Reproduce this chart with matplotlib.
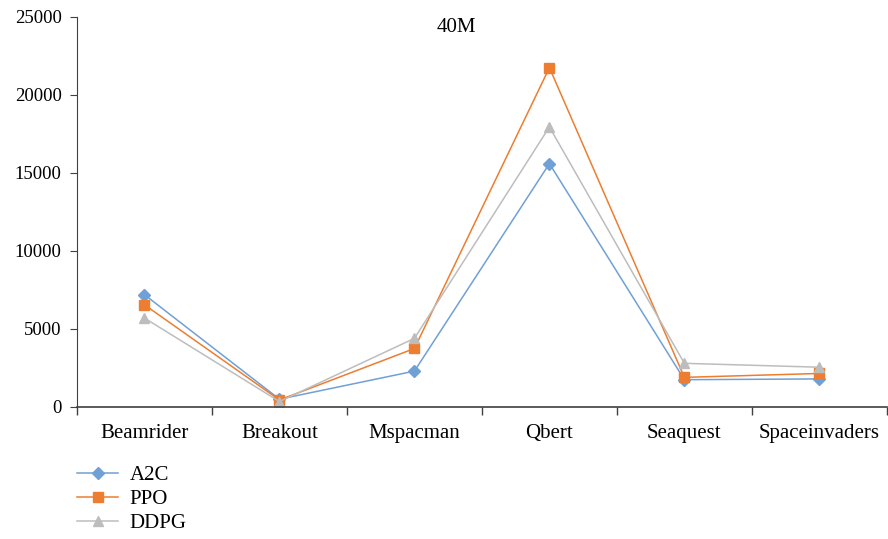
import numpy as np
import matplotlib as mpl
from matplotlib import pyplot as plt
from matplotlib.ticker import FixedLocator

mpl.rcParams['font.family'] = ['Liberation Serif', 'DejaVu Serif']

games = ['Beamrider', 'Breakout', 'Mspacman', 'Qbert', 'Seaquest', 'Spaceinvaders']
a2c   = [7200, 500, 2300, 15600, 1750, 1800]
ppo   = [6550, 450, 3750, 21750, 1900, 2150]
ddpg  = [5700, 350, 4400, 17950, 2800, 2550]

series = [('A2C', a2c, '#6fa0d6', 'D', 6), ('PPO', ppo, '#ed7d31', 's', 7), ('DDPG', ddpg, '#bdbdbd', '^', 7.5)]

fig = plt.figure(figsize=(8.88, 5.39), dpi=100)
ax = fig.add_axes([0.0867, 0.2449, 0.912, 0.7236])
x = np.arange(len(games))
for name, y, c, m, ms in series:
    ax.plot(x, y, color=c, lw=1.1, marker=m, ms=ms, mec=c, mfc=c, label=name)

ax.set_xlim(-0.5, len(games) - 0.5)
ax.set_ylim(0, 25000)
ax.set_yticks(np.arange(0, 25001, 5000))
ax.set_xticks(x)
ax.set_xticklabels(games, fontsize=15)
ax.xaxis.set_minor_locator(FixedLocator(np.arange(-0.5, len(games), 1.0)))
ax.tick_params(axis='x', which='major', length=0, pad=12)
ax.tick_params(axis='x', which='minor', length=6, color='#404040', width=1)
ax.tick_params(axis='y', labelsize=13.5, length=5, color='#404040', pad=6)
for s in ['top', 'right']:
    ax.spines[s].set_visible(False)
ax.spines['left'].set_color('#404040')
ax.spines['bottom'].set_color('#404040')
ax.spines['bottom'].set_linewidth(1.2)

ax.text(0.469, 0.997, '40M', transform=ax.transAxes, ha='center', va='top', fontsize=15)

fig.legend(loc='upper left', bbox_to_anchor=(0.077, 0.152), frameon=False, fontsize=15,
           handlelength=2.0, labelspacing=0.22, borderaxespad=0, handletextpad=0.55)

fig.savefig('out.png', dpi=100)
